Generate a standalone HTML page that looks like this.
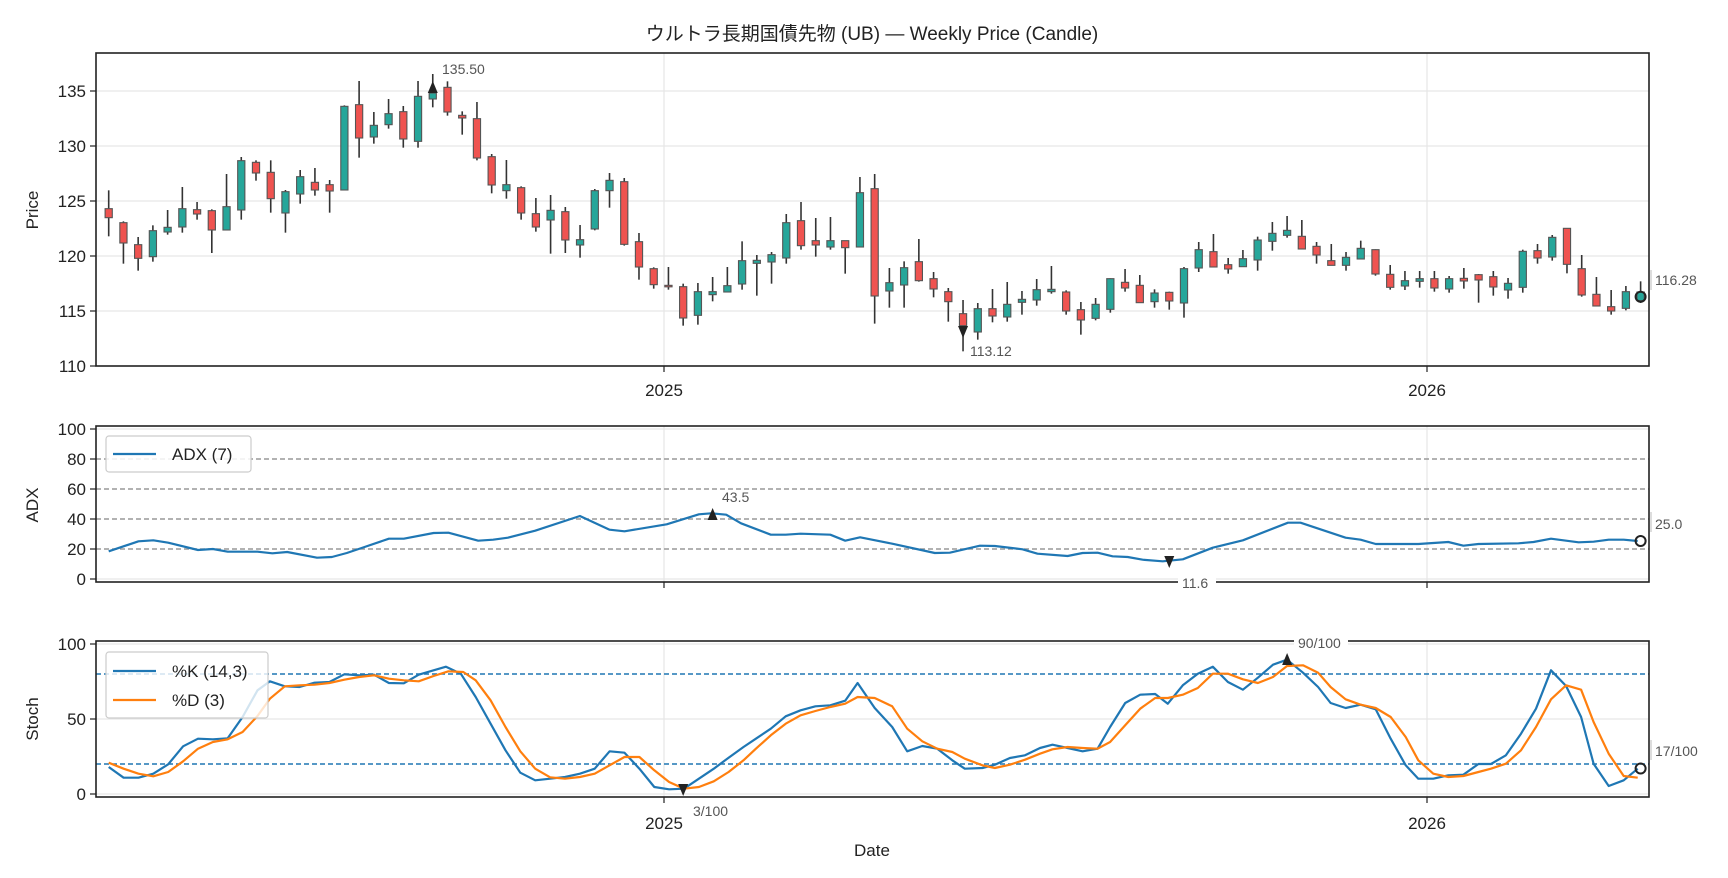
<!DOCTYPE html>
<html><head><meta charset="utf-8"><style>
html,body{margin:0;padding:0;background:#fff;}
svg{display:block;font-family:"Liberation Sans","Noto Sans CJK JP",sans-serif;}
</style></head><body>
<svg id="s" width="1728" height="878" viewBox="0 0 1728 878" xmlns="http://www.w3.org/2000/svg">
<rect width="1728" height="878" fill="#fff"/>
<g id="g"></g>
<text x="872" y="40" font-size="19" text-anchor="middle" fill="#222">ウルトラ長期国債先物 (UB) — Weekly Price (Candle)</text>
</svg>
<script>
var L=96,R=1649,X0=108.7,DX=14.73;
function xi(i){return X0+i*DX;}
var h='';
function ln(x1,y1,x2,y2,c,w,extra){h+='<line x1="'+x1+'" y1="'+y1+'" x2="'+x2+'" y2="'+y2+'" stroke="'+c+'" stroke-width="'+w+'" '+(extra||'')+'/>';}
function tx(x,y,t,sz,anc,c,extra){h+='<text x="'+x+'" y="'+y+'" font-size="'+sz+'" text-anchor="'+(anc||'start')+'" fill="'+(c||'#222')+'" '+(extra||'')+'>'+t+'</text>';}
// panels
var P=[[53,366],[426,582],[641,797]];
// price grid
for(var v=110;v<=135;v+=5){var y=366-(v-110)*11;ln(L,y,R,y,'#e6e6e6',1.2);ln(L-6,y,L,y,'#222',1.2);tx(L-10,y+6,v,17,'end');}
[664,1427].forEach(function(x){ln(x,P[0][0],x,P[0][1],'#e6e6e6',1.2);ln(x,P[1][0],x,P[1][1],'#e6e6e6',1.2);ln(x,P[2][0],x,P[2][1],'#e6e6e6',1.2);
 ln(x,366,x,372,'#222',1.2);ln(x,582,x,588,'#222',1.2);ln(x,797,x,803,'#222',1.2);});
tx(664,396,'2025',17,'middle');tx(1427,396,'2026',17,'middle');
tx(664,829,'2025',17,'middle');tx(1427,829,'2026',17,'middle');
tx(872,856,'Date',17,'middle');
tx(38,210,'Price',17,'middle','#222','transform="rotate(-90 38 210)"');
tx(38,505,'ADX',17,'middle','#222','transform="rotate(-90 38 505)"');
tx(38,719,'Stoch',17,'middle','#222','transform="rotate(-90 38 719)"');
// candles
var C=[
[412,467,494,550,0],[505,509,570,632,0],[552,575,616,653,0],[517,533,611,626,1],[471,523,537,545,1],[402,467,522,539,1],[447,470,483,500,0],[469,473,531,600,0],[363,461,531,531,1],[312,323,471,500,1],
[322,328,360,383,0],[322,358,437,479,0],[411,416,480,539,1],[351,371,423,452,1],[345,388,411,428,0],[381,395,414,479,0],[157,160,411,411,1],[84,155,255,314,0],[177,217,252,272,1],[138,182,215,227,1],
[159,176,258,284,0],[84,130,265,284,1],[63,120,138,163,1],[85,103,177,188,0],[175,187,195,245,0],[147,197,315,322,0],[303,311,396,421,0],[321,395,413,437,1],[400,404,480,500,0],[435,482,522,536,0],
[426,472,501,602,1],[462,476,561,600,0],[516,560,576,614,1],[408,413,528,532,1],[360,382,413,464,1],[375,386,574,578,0],[540,566,642,680,0],[643,647,695,707,0],[642,697,701,710,0],[692,701,795,818,0],
[690,716,787,815,1],[672,716,725,745,1],[642,698,717,717,1],[565,623,693,710,1],[606,622,631,728,1],[597,605,627,692,1],[483,509,615,632,1],[447,503,578,590,0],[495,563,576,611,0],[492,563,582,590,1],
[563,563,584,662,0],[372,419,582,582,1],[363,407,729,812,0],[645,689,714,764,1],[625,644,696,764,1],[558,626,683,686,0],[657,677,708,733,0],[705,716,746,806,0],[741,782,818,895,0],[750,767,837,860,1],
[708,767,789,808,0],[687,754,792,806,1],[714,739,748,785,1],[678,710,741,758,1],[639,709,716,722,1],[712,717,774,785,0],[747,770,801,845,0],[735,754,796,802,1],[676,677,769,779,1],[648,688,705,716,0],
[666,697,749,749,0],[709,720,746,764,1],[716,718,744,770,0],[642,647,750,794,1],[567,590,645,657,1],[543,596,642,642,0],[615,635,648,662,0],[591,617,641,641,1],[551,561,621,653,1],[507,541,565,593,1],
[489,532,547,554,1],[501,550,588,588,0],[567,580,606,632,0],[573,623,637,637,0],[597,613,637,653,1],[563,586,618,618,1],[589,590,663,668,0],[636,664,703,710,0],[654,683,699,711,1],[654,677,685,704,1],
[654,677,705,716,0],[669,677,708,719,1],[645,676,684,707,0],[663,665,681,749,0],[654,671,702,728,0],[675,691,711,737,1],[590,595,703,719,1],[573,593,615,632,0],[546,553,612,623,1],[525,526,634,661,0],
[606,647,726,731,0],[672,724,759,759,0],[711,761,774,785,0],[699,716,766,772,1],[685,717,743,750,1]];
function cy(z){return 53+z/3;}
C.forEach(function(c,i){var x=xi(i);ln(x,cy(c[0]),x,cy(c[3]),'#333',1.6);
 var t=cy(c[1]),b=cy(c[2]);if(b-t<1.5)b=t+1.5;
 h+='<rect x="'+(x-3.6)+'" y="'+t+'" width="7.2" height="'+(b-t)+'" fill="'+(c[4]?'#26a69a':'#ef5350')+'" stroke="#555" stroke-width="1.1"/>';});
// price annotations
var x22=xi(22);h+='<path d="M'+(x22-5)+' 93 L'+(x22+5)+' 93 L'+x22+' 81 Z" fill="#222"/>';
tx(442,74,'135.50',14,'start','#555');
var x58=xi(58);h+='<path d="M'+(x58-5)+' 326 L'+(x58+5)+' 326 L'+x58+' 338 Z" fill="#222"/>';
tx(970,356,'113.12',14,'start','#555');
h+='<circle cx="1640.6" cy="296.7" r="5" fill="none" stroke="#222" stroke-width="2"/>';
ln(1651,270,1651,290,'#bbb',1);tx(1655,285,'116.28',14,'start','#555');
// ADX panel
for(var v=0;v<=100;v+=20){var y=579-1.5*v;ln(L-6,y,L,y,'#222',1.2);tx(L-10,y+6,v,17,'end');}
ln(L,579,R,579,'#e6e6e6',1.2);ln(L,429,R,429,'#e6e6e6',1.2);
[20,40,60,80].forEach(function(v){var y=579-1.5*v;ln(L,y,R,y,'#999',1.4,'stroke-dasharray="5,3"');});
var A11=[[35,378],[95,348],[125,345],[155,352],[215,374],[245,371],[275,379],[335,379],[365,384],[395,380],[455,397],[485,395],[515,383],[545,368],[600,340],[630,340],[690,323],[720,322],[780,346],[810,343],[840,337],[895,316],[985,272],[1045,313],[1075,318],[1160,297],[1225,267],[1250,264],[1280,268],[1310,294],[1370,328],[1400,328],[1430,325],[1490,328],[1520,346],[1550,336]];
var A12=[[60,355],[145,383],[175,382],[235,361],[265,362],[320,372],[350,385],[410,392],[440,383],[470,382],[500,393],[530,395],[560,403],[600,408],[640,402],[700,367],[760,345],[850,292],[875,292],[965,337],[995,343],[1025,356],[1110,356],[1170,350],[1200,361],[1230,356],[1310,354],[1340,350],[1375,340],[1430,351],[1460,349],[1490,343],[1520,343],[1548,347]];
function i11(z){return (z-35)/29.7;}function i12(z){return 72+(z-613)/29.4;}
function pts(a,b,base){var s=[];a.forEach(function(p){s.push(xi(i11(p[0])).toFixed(1)+','+(base-1.5*(20+(gl(base)-p[1])/4.5)).toFixed(1));});
 b.forEach(function(p){s.push(xi(i12(p[0])).toFixed(1)+','+(base-1.5*(20+(gl(base)-p[1])/4.5)).toFixed(1));});return s.join(' ');}
function gl(base){return base==579?371:1016;}
h+='<polyline points="'+pts(A11,A12,579)+'" fill="none" stroke="#1f77b4" stroke-width="2.2" stroke-linejoin="round"/>';
var x41=xi(41);h+='<path d="M'+(x41-5)+' 520 L'+(x41+5)+' 520 L'+x41+' 508 Z" fill="#222"/>';tx(722,502,'43.5',14,'start','#555');
var x72=xi(72);h+='<path d="M'+(x72-5)+' 556 L'+(x72+5)+' 556 L'+x72+' 568 Z" fill="#222"/>';
h+='<rect x="1178" y="576" width="38" height="12" fill="#fff"/>';tx(1182,588,'11.6',14,'start','#555');
h+='<circle cx="1640.6" cy="541" r="5" fill="none" stroke="#222" stroke-width="2"/>';
ln(1651,512,1651,532,'#bbb',1);tx(1655,529,'25.0',14,'start','#555');
// ADX legend
h+='<rect x="106" y="436" width="145" height="36" rx="3" fill="#fff" fill-opacity="0.85" stroke="#ccc" stroke-width="1.2"/>';
ln(113,454,156,454,'#1f77b4',2.2);tx(172,460,'ADX (7)',17);
// Stoch panel
[0,50,100].forEach(function(v){var y=794-1.5*v;ln(L-6,y,L,y,'#222',1.2);tx(L-10,y+6,v,17,'end');ln(L,y,R,y,'#e6e6e6',1.2);});
[20,80].forEach(function(v){var y=794-1.5*v;ln(L,y,R,y,'#1f77b4',1.5,'stroke-dasharray="5,3"');});
var K11=[[35,1025],[65,1057],[95,1057],[125,1045],[155,1017],[185,963],[215,940],[245,942],[275,939],[305,875],[335,795],[360,768],[390,783],[420,785],[450,772],[480,770],[510,747],[540,750],[570,748],[600,773],[630,774],[660,748],[690,735],[715,724],[745,745],[775,815],[805,895],[835,975],[865,1042],[895,1065],[925,1060],[955,1055],[985,1045],[1015,1030],[1045,978],[1075,982],[1105,1030],[1135,1085],[1165,1092],[1195,1090],[1225,1060],[1255,1030],[1285,997],[1315,965],[1340,940],[1370,910],[1400,873],[1430,855],[1460,843],[1490,840],[1520,826],[1545,773]];
var K12=[[25,848],[60,905],[90,978],[120,962],[150,970],[180,1005],[205,1030],[240,1028],[265,1018],[295,998],[325,990],[355,968],[380,958],[410,968],[440,978],[470,970],[495,905],[525,833],[555,808],[585,806],[610,835],[640,780],[670,745],[700,724],[730,770],[760,793],[790,757],[820,718],[848,703],[880,742],[910,785],[935,833],[965,848],[995,838],[1025,852],[1055,940],[1085,1020],[1110,1060],[1140,1060],[1170,1050],[1200,1048],[1230,1016],[1255,1016],[1285,990],[1315,925],[1345,850],[1375,735],[1405,782],[1435,875],[1460,1015],[1490,1082],[1520,1065],[1548,1030]];
var D11=[[35,1012],[65,1030],[95,1045],[125,1053],[155,1040],[185,1008],[215,970],[245,950],[275,942],[305,920],[335,872],[360,820],[390,783],[420,780],[450,778],[480,773],[510,763],[540,755],[570,750],[600,760],[630,765],[660,768],[690,752],[720,738],[750,740],[775,765],[805,825],[835,905],[865,978],[895,1030],[925,1056],[955,1060],[985,1055],[1015,1045],[1045,1020],[1075,995],[1105,995],[1135,1035],[1165,1070],[1195,1090],[1225,1085],[1255,1068],[1285,1040],[1315,1005],[1340,970],[1370,930],[1400,895],[1430,870],[1460,857],[1490,845],[1520,835],[1545,815]];
var D12=[[25,818],[60,843],[90,910],[120,948],[150,970],[180,980],[205,1000],[240,1020],[265,1028],[295,1018],[325,1003],[355,985],[380,972],[410,965],[440,968],[470,970],[495,950],[525,900],[555,850],[585,818],[610,818],[640,808],[670,788],[700,745],[730,745],[760,762],[790,773],[820,755],[848,722],[880,720],[910,742],[935,785],[965,822],[995,838],[1025,848],[1055,875],[1085,935],[1110,1005],[1140,1045],[1170,1055],[1200,1052],[1230,1040],[1255,1030],[1285,1015],[1315,975],[1345,905],[1375,822],[1405,780],[1435,793],[1460,890],[1490,985],[1520,1052],[1548,1057]];
h+='<polyline points="'+pts(K11,K12,794)+'" fill="none" stroke="#1f77b4" stroke-width="2.2" stroke-linejoin="round"/>';
h+='<polyline points="'+pts(D11,D12,794)+'" fill="none" stroke="#ff7f0e" stroke-width="2.2" stroke-linejoin="round"/>';
var x39=xi(39);h+='<path d="M'+(x39-5)+' 784 L'+(x39+5)+' 784 L'+x39+' 796 Z" fill="#222"/>';tx(693,816,'3/100',14,'start','#555');
var x80=xi(80);h+='<path d="M'+(x80-5)+' 665 L'+(x80+5)+' 665 L'+x80+' 653 Z" fill="#222"/>';
h+='<rect x="1294" y="636" width="54" height="12" fill="#fff"/>';tx(1298,648,'90/100',14,'start','#555');
h+='<circle cx="1640.6" cy="768.5" r="5" fill="none" stroke="#222" stroke-width="2"/>';
ln(1651,740,1651,760,'#bbb',1);tx(1655,756,'17/100',14,'start','#555');
h+='<rect x="106" y="652" width="162" height="66" rx="3" fill="#fff" fill-opacity="0.8" stroke="#ccc" stroke-width="1.2"/>';
ln(113,671,156,671,'#1f77b4',2.2);tx(172,677,'%K (14,3)',17);
ln(113,700,156,700,'#ff7f0e',2.2);tx(172,706,'%D (3)',17);
// frames
P.forEach(function(p){h+='<rect x="'+L+'" y="'+p[0]+'" width="'+(R-L)+'" height="'+(p[1]-p[0])+'" fill="none" stroke="#222" stroke-width="1.6"/>';});
// redraw label boxes over frame
h+='<rect x="1178" y="578" width="38" height="10" fill="#fff"/>';tx(1182,588,'11.6',14,'start','#555');
h+='<rect x="1294" y="636" width="54" height="12" fill="#fff"/>';tx(1298,648,'90/100',14,'start','#555');
document.getElementById('g').innerHTML=h;
</script>
</body></html>
